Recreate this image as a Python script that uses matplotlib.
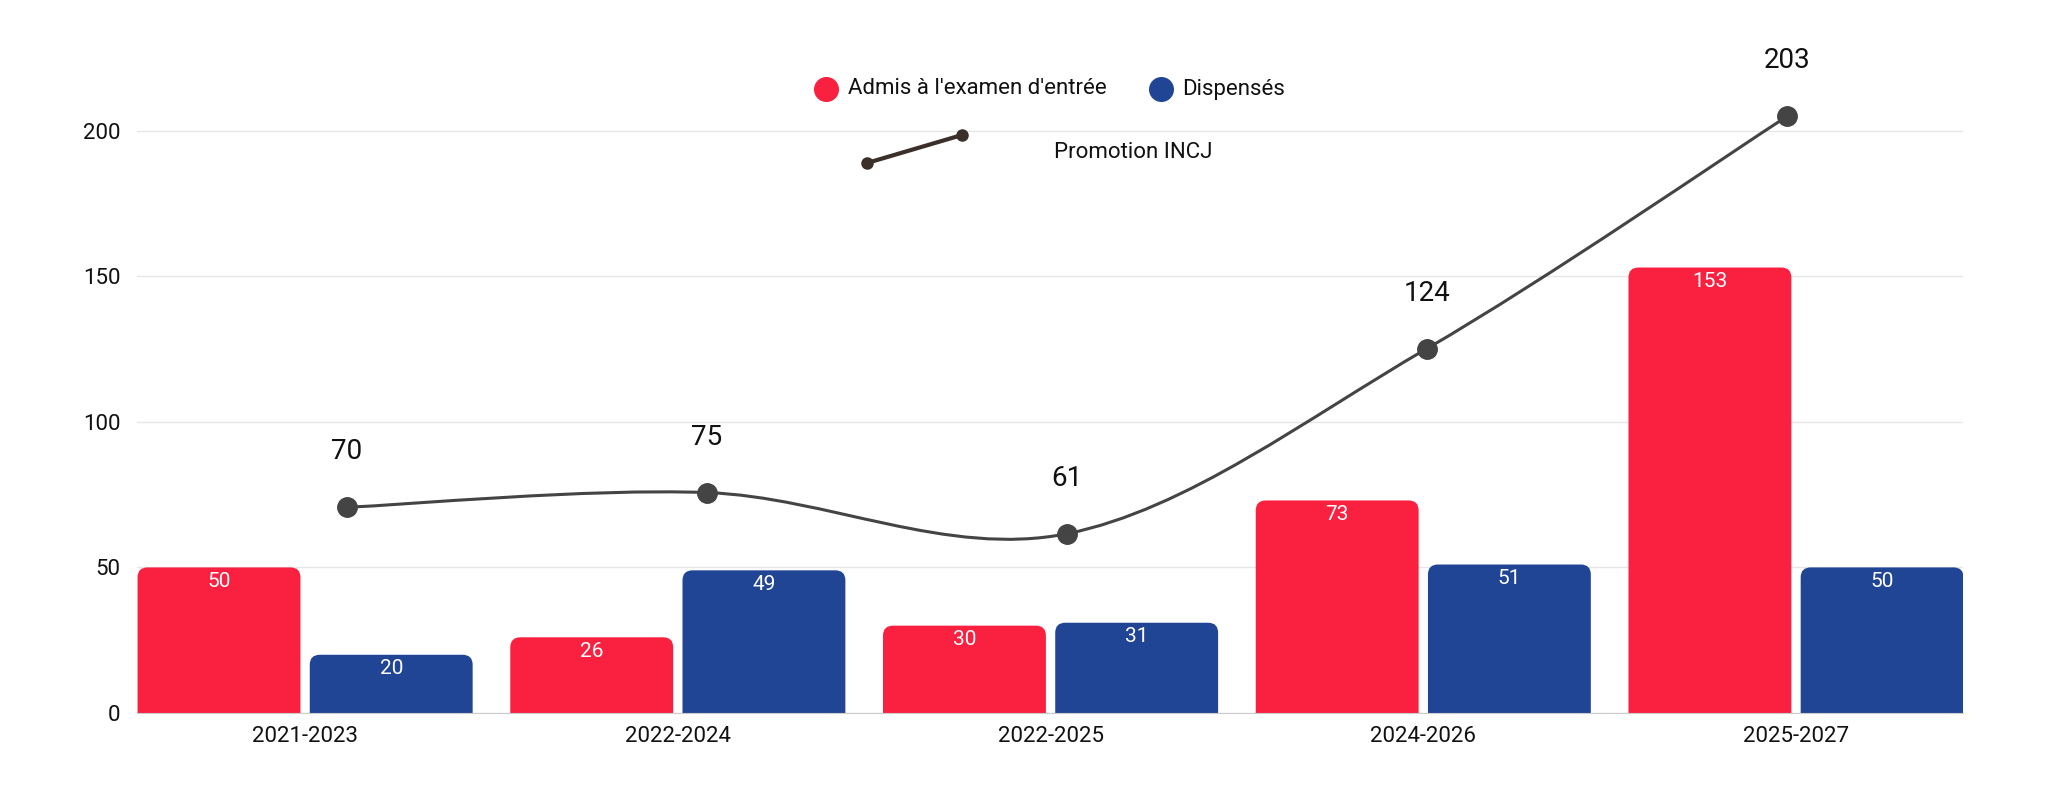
import matplotlib
matplotlib.use("Agg")
import matplotlib.pyplot as plt
import numpy as np
from matplotlib.path import Path
from matplotlib.patches import PathPatch
from matplotlib.lines import Line2D

plt.rcParams['font.family'] = ['Roboto', 'DejaVu Sans']

# data
promotions = ["2021-2023", "2022-2024", "2022-2025", "2024-2026", "2025-2027"]
admis = [50, 26, 30, 73, 153]
dispenses = [20, 49, 31, 51, 50]
total_incj = [70, 75, 61, 124, 203]

red = "#F92040"
blue = "#214595"
grey_line = "#444444"

W, H = 2048, 801
fig = plt.figure(figsize=(W / 100, H / 100), dpi=100)
ax_rect = [137 / W, 88 / H, 1826 / W, 626 / H]
ax = fig.add_axes(ax_rect)

x = np.arange(len(promotions))
bw = 0.437
off = 0.231
ax.set_xlim(-0.451, 4.448)
ax.set_ylim(0, 215)

# px per data unit, for round corners
px_x = 1826 / (4.448 + 0.451)
px_y = 626 / 215
r_px = 10
rx = r_px / px_x
ry = r_px / px_y


def top_rounded(x0, w, h):
    x1 = x0 + w
    verts = [(x0, 0), (x0, h - ry), (x0, h), (x0 + rx, h), (x1 - rx, h),
             (x1, h), (x1, h - ry), (x1, 0), (x0, 0)]
    codes = [Path.MOVETO, Path.LINETO, Path.CURVE3, Path.CURVE3, Path.LINETO,
             Path.CURVE3, Path.CURVE3, Path.LINETO, Path.CLOSEPOLY]
    return Path(verts, codes)


bars_a = ax.bar(x - off, admis, bw, color=red)
bars_d = ax.bar(x + off, dispenses, bw, color=blue)
for bars in (bars_a, bars_d):
    for b in bars:
        b.set_visible(False)
        bx, bwid, bh = b.get_x(), b.get_width(), b.get_height()
        ax.add_patch(PathPatch(top_rounded(bx, bwid, bh), fc=b.get_facecolor(),
                               ec="none", zorder=2))
        ax.annotate(str(int(bh)), (bx + bwid / 2, bh), xytext=(0, -10),
                    textcoords="offset points", ha="center", va="center",
                    color="white", fontsize=15, zorder=3)

ax.set_yticks([0, 50, 100, 150, 200])
ax.grid(axis="y", color="#e6e6e6", linewidth=1)
ax.set_axisbelow(True)
for s in ["top", "right", "left"]:
    ax.spines[s].set_visible(False)
ax.spines["bottom"].set_color("#cccccc")
ax.tick_params(axis="both", length=0, labelsize=16, colors="#111111")
ax.tick_params(axis="y", pad=12)
ax.tick_params(axis="x", pad=9)
ax.set_xticks(x)
ax.set_xticklabels(promotions)

# line on its own overlay axes
ax2 = fig.add_axes(ax_rect)
ax2.set_xlim(-0.583, 4.489)
ax2.set_ylim(0, 213)
ax2.axis("off")

# smooth curve (Catmull-Rom -> bezier)
pts = np.column_stack([x, total_incj]).astype(float)
verts = [tuple(pts[0])]
codes = [Path.MOVETO]
n = len(pts)
for i in range(n - 1):
    p0 = pts[max(i - 1, 0)]
    p1 = pts[i]
    p2 = pts[i + 1]
    p3 = pts[min(i + 2, n - 1)]
    c1 = p1 + (p2 - p0) / 6
    c2 = p2 - (p3 - p1) / 6
    verts += [tuple(c1), tuple(c2), tuple(p2)]
    codes += [Path.CURVE4] * 3
ax2.add_patch(PathPatch(Path(verts, codes), fc="none", ec=grey_line, lw=2.2, zorder=4))
ax2.plot(x, total_incj, "o", color=grey_line, markersize=14, zorder=5)
for xi, v in zip(x, total_incj):
    ax2.annotate(str(v), (xi, v), xytext=(0, 40), textcoords="offset points",
                 ha="center", va="center", fontsize=20, color="#111111",
                 annotation_clip=False)

# legend drawn by hand
fig.add_artist(Line2D([826 / W], [1 - 89 / H], marker="o", markersize=17,
                      color=red, linestyle="none"))
fig.text(848 / W, 1 - 89 / H, "Admis à l'examen d'entrée", fontsize=16,
         va="center", ha="left", color="#111111")
fig.add_artist(Line2D([1161 / W], [1 - 89 / H], marker="o", markersize=17,
                      color=blue, linestyle="none"))
fig.text(1182 / W, 1 - 89 / H, "Dispensés", fontsize=16,
         va="center", ha="left", color="#111111")
fig.add_artist(Line2D([867 / W, 962 / W], [1 - 163 / H, 1 - 135 / H],
                      marker="o", markersize=8, color="#3b2f2a", linewidth=3))
fig.text(1054 / W, 1 - 152 / H, "Promotion INCJ", fontsize=16,
         va="center", ha="left", color="#111111")

fig.savefig("out.png", dpi=100, facecolor="white")
